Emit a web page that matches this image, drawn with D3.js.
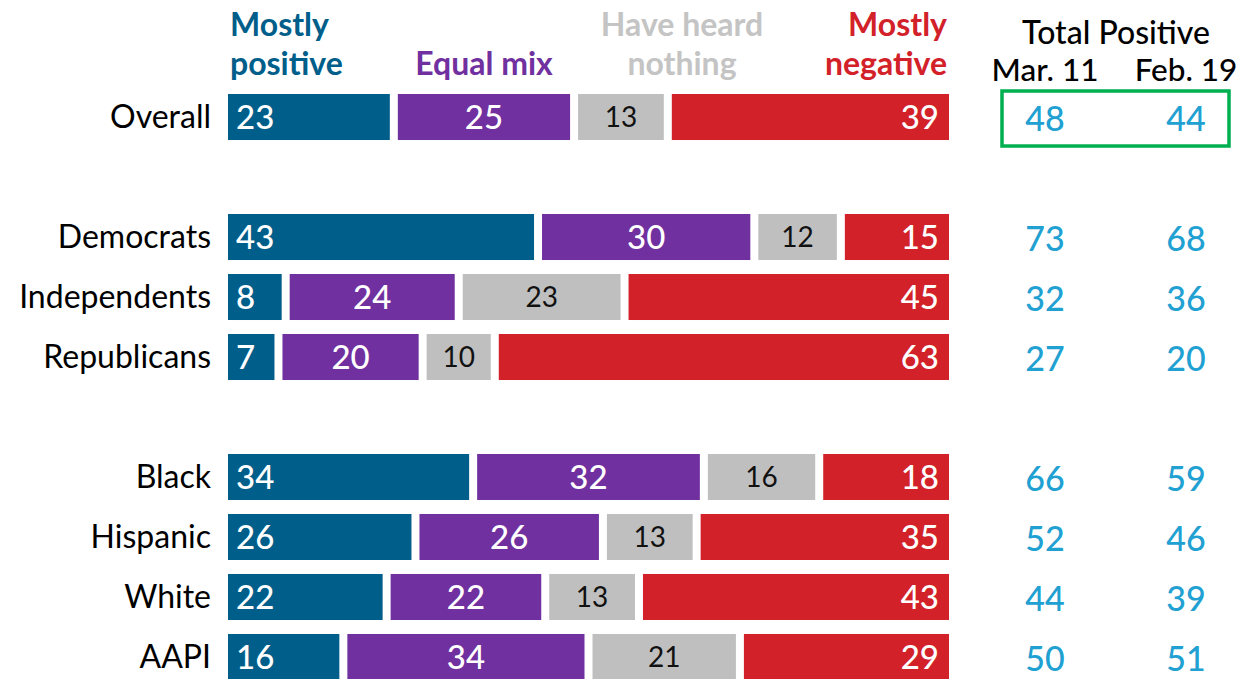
<!DOCTYPE html>
<html>
<head>
<meta charset="utf-8">
<script src="https://cdn.jsdelivr.net/npm/d3@7"></script>
<style>
  body { margin: 0; background: #fff; }
  svg text { font-family: Lato, "Noto Sans", sans-serif; }
</style>
</head>
<body>
<div id="chart"></div>
<script>
// rows (gap slots keep the empty space between groups)
const slots = ["Overall", "gap1", "Democrats", "Independents", "Republicans", "gap2", "Black", "Hispanic", "White", "AAPI"];
const groups = ["Overall", "Democrats", "Independents", "Republicans", "Black", "Hispanic", "White", "AAPI"];

// series values, one per group
const mostlyPositive = [23, 43, 8, 7, 34, 26, 22, 16];
const equalMix       = [25, 30, 24, 20, 32, 26, 22, 34];
const heardNothing   = [13, 12, 23, 10, 16, 13, 13, 21];
const mostlyNegative = [39, 15, 45, 63, 18, 35, 43, 29];

// total positive columns
const totalMar11 = [48, 73, 32, 27, 66, 52, 44, 50];
const totalFeb19 = [44, 68, 36, 20, 59, 46, 39, 51];

const seriesNames = ["Mostly positive", "Equal mix", "Have heard nothing", "Mostly negative"];
const colors = ["#005E8A", "#7030A0", "#BFBFBF", "#D3212A"];

const w = 1243, h = 679;
const gap = 8;

const svg = d3.select("#chart").append("svg")
  .attr("width", w)
  .attr("height", h);

const x = d3.scaleLinear().domain([0, 100]).range([228, 949]);
const y = d3.scaleBand().domain(slots).range([87, 687])
  .paddingInner(0.233).paddingOuter(0.1167);

// build stacked rows
const rows = groups.map((g, i) => ({
  group: g,
  values: [mostlyPositive[i], equalMix[i], heardNothing[i], mostlyNegative[i]]
}));

const rowG = svg.selectAll("g.row")
  .data(rows)
  .enter()
  .append("g")
  .attr("class", "row")
  .attr("transform", d => "translate(0," + y(d.group) + ")");

// row labels
rowG.append("text")
  .attr("x", 211)
  .attr("y", y.bandwidth() / 2)
  .attr("dy", "0.35em")
  .attr("text-anchor", "end")
  .attr("font-size", 32)
  .attr("fill", "#000")
  .text(d => d.group);

rowG.each(function(d) {
  const g = d3.select(this);
  let start = 0;
  d.values.forEach((v, k) => {
    const end = start + v;
    const x0 = x(start) + (k > 0 ? gap / 2 : 0);
    const x1 = x(end) - (k < 3 ? gap / 2 : 0);
    g.append("rect")
      .attr("x", x0)
      .attr("y", 0)
      .attr("width", x1 - x0)
      .attr("height", y.bandwidth())
      .attr("fill", colors[k]);

    let tx, anchor;
    if (k === 0) { tx = x0 + 8; anchor = "start"; }
    else if (k === 3) { tx = x1 - 10; anchor = "end"; }
    else { tx = (x0 + x1) / 2; anchor = "middle"; }

    g.append("text")
      .attr("x", tx)
      .attr("y", y.bandwidth() / 2)
      .attr("dy", "0.36em")
      .attr("text-anchor", anchor)
      .attr("font-size", k === 2 ? 28 : 33)
      .attr("font-weight", k === 2 ? 400 : 500)
      .attr("fill", k === 2 ? "#111" : "#fff")
      .text(v);
    start = end;
  });
});

// series headers
const headers = [
  { lines: ["Mostly", "positive"], x: 230, anchor: "start" },
  { lines: ["", "Equal mix"], x: 484, anchor: "middle" },
  { lines: ["Have heard", "nothing"], x: 682, anchor: "middle" },
  { lines: ["Mostly", "negative"], x: 947, anchor: "end" }
];
headers.forEach((hd, k) => {
  const t = svg.append("text")
    .attr("x", hd.x)
    .attr("text-anchor", hd.anchor)
    .attr("font-size", 32)
    .attr("font-weight", 700)
    .attr("fill", colors[k] === "#BFBFBF" ? "#C4C4C4" : colors[k]);
  hd.lines.forEach((line, j) => {
    t.append("tspan").attr("x", hd.x).attr("y", 36 + j * 39).text(line);
  });
});

// total positive column
const colX = [1045, 1186];
svg.append("text")
  .attr("x", 1116).attr("y", 44)
  .attr("text-anchor", "middle")
  .attr("font-size", 32)
  .attr("font-weight", 500)
  .text("Total Positive");
["Mar. 11", "Feb. 19"].forEach((lbl, j) => {
  svg.append("text")
    .attr("x", colX[j]).attr("y", 81)
    .attr("text-anchor", "middle")
    .attr("font-size", 31.5)
    .attr("font-weight", 500)
    .text(lbl);
});

[totalMar11, totalFeb19].forEach((col, j) => {
  svg.selectAll("text.tot" + j)
    .data(groups)
    .enter()
    .append("text")
    .attr("class", "tot" + j)
    .attr("x", colX[j])
    .attr("y", g => y(g) + y.bandwidth() / 2 + 2)
    .attr("dy", "0.36em")
    .attr("text-anchor", "middle")
    .attr("font-size", 34)
    .attr("font-weight", 500)
    .attr("fill", "#21A0D2")
    .text((g, i) => col[i]);
});

// highlight box around the overall totals
svg.append("rect")
  .attr("x", 1002)
  .attr("y", y("Overall") - 3)
  .attr("width", 227)
  .attr("height", y.bandwidth() + 9)
  .attr("fill", "none")
  .attr("stroke", "#00B050")
  .attr("stroke-width", 3.5);
</script>
</body>
</html>
